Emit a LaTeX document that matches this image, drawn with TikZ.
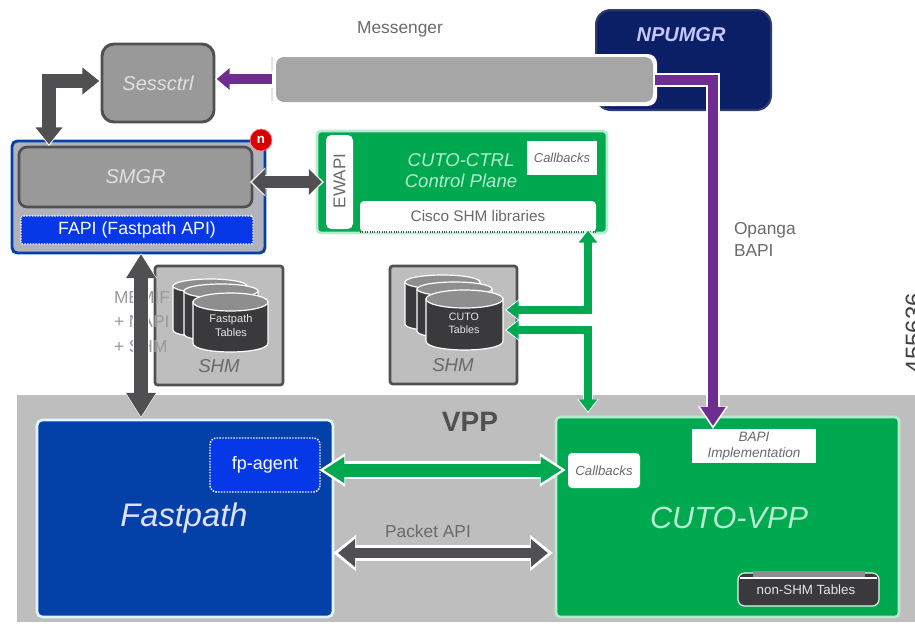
\documentclass[tikz,border=0pt]{standalone}
\usepackage{fontspec}
\setmainfont{Liberation Sans}
\usetikzlibrary{arrows.meta,calc}
\definecolor{cgreen}{HTML}{00A94F}
\definecolor{cmint}{HTML}{B5ECD0}
\definecolor{cdark}{HTML}{505052}
\definecolor{cgray}{HTML}{999999}
\definecolor{cbar}{HTML}{A6A6A6}
\definecolor{cgroup}{HTML}{B2B2BC}
\definecolor{cband}{HTML}{BEBEBE}
\definecolor{cnavy}{HTML}{0B1F66}
\definecolor{cfast}{HTML}{0340A8}
\definecolor{cblue}{HTML}{0638E8}
\definecolor{cpurple}{HTML}{6F2C91}
\definecolor{ctxt}{HTML}{6A6A6A}
\definecolor{ccyl}{HTML}{3A393B}
\definecolor{ccyltop}{HTML}{8E8E8E}
\tikzset{
  boxbase/.style={rectangle,inner sep=0pt,outer sep=0pt,align=center},
  graybox/.style={boxbase,fill=cgray,draw=cdark,line width=2.2pt,rounded corners=9pt,text=white!88!black},
  shmbox/.style={boxbase,fill=cband,draw=cdark,line width=2pt,rounded corners=2pt},
  greenbox/.style={boxbase,fill=cgreen,draw=cmint,line width=2pt,rounded corners=3pt,text=cmint},
  whitebox/.style={boxbase,fill=white,rounded corners=2pt,text=ctxt},
  dotbox/.style={boxbase,fill=cblue,draw=white,line width=1.1pt,densely dotted,rounded corners=3pt,text=white},
  label/.style={inner sep=0pt,outer sep=0pt,text=ctxt,align=left},
  oneway/.style={->,shorten <=0pt},
  bothways/.style={<->},
}
% style, name, x1, y1, x2, y2, text
\newcommand\pxbox[7]{%
  \pgfmathsetmacro\bw{(#5-#3)*.75}\pgfmathsetmacro\bh{(#6-#4)*.75}%
  \pgfmathsetmacro\bcx{(#3+#5)/2}\pgfmathsetmacro\bcy{(#4+#6)/2}%
  \node[#1,minimum width=\bw pt,minimum height=\bh pt] (#2) at (\bcx,\bcy) {#7};}
% colour, tips, shaft, head width, head length, outline, path
\newcommand\barrow[7]{%
  \pgfmathsetmacro\wa{(#3+2*#6)*.75}\pgfmathsetmacro\wb{#3*.75}%
  \pgfmathsetmacro\hwa{(#4+2.6*#6)*.75}\pgfmathsetmacro\hwb{#4*.75}%
  \pgfmathsetmacro\hla{(#5+2*#6)*.75}\pgfmathsetmacro\hlb{#5*.75}%
  \pgfmathsetmacro\shr{1.7*#6*.75}%
  \draw[white,line width=\wa pt,>={Triangle[length=\hla pt,width=\hwa pt]},#2] #7;
  \draw[#1,line width=\wb pt,>={Triangle[length=\hlb pt,width=\hwb pt]},shorten >=\shr pt,shorten <=\shr pt,#2] #7;}
% name, x1, top, x2, bottom, ry
\newcommand\cyl[6]{%
  \pgfmathsetmacro\ccx{(#2+#4)/2}\pgfmathsetmacro\crx{(#4-#2)/2}\pgfmathsetmacro\cb{#5+#6*1.0}%
  \pgfmathsetmacro\ccy{#3+#6}\pgfmathsetmacro\cmy{(#3+#5)/2+#6/2}%
  \draw[white,line width=.9pt,fill=ccyl] (#2,\ccy) -- (#2,#5-#6) .. controls (#2,#5+.33*#6) and (#4,#5+.33*#6) .. (#4,#5-#6) -- (#4,\ccy) -- cycle;
  \draw[white,line width=.9pt,fill=ccyltop] (\ccx,\ccy) ellipse [x radius=\crx,y radius=#6];
  \coordinate (#1) at (\ccx,\cmy);}
\begin{document}
\begin{tikzpicture}[x=.75pt,y=-.75pt]
\useasboundingbox (0,0) rectangle (915,640);
\clip (0,0) rectangle (915,640);
% VPP band
\fill[cband] (17,395) rectangle (915,622);
% NPUMGR and Messenger
\pxbox{boxbase,fill=cnavy,draw=cnavy!70!gray,line width=1.5pt,rounded corners=11pt}{npu}{596}{10}{771}{110}{}
\node[boxbase,text=white!78!blue,font=\fontsize{15}{18}\selectfont\bfseries\itshape] (npulabel) at (681,35) {NPUMGR};
\pxbox{boxbase,fill=white,rounded corners=7pt}{busout}{272}{54}{657}{106}{}
\pxbox{boxbase,fill=cbar,rounded corners=6pt}{bus}{276}{57}{653}{102}{}
\fill[white!78!gray] (271,57) rectangle (273,71) (271,88) rectangle (273,101);
\node[label,font=\fontsize{13}{16}\selectfont] (mess) at (400,29) {Messenger};
% Sessctrl
\pxbox{graybox,font=\fontsize{15}{18}\selectfont\itshape}{sess}{102}{44}{214}{122}{Sessctrl}
% SMGR group
\pxbox{boxbase,fill=cgroup,draw=cfast,line width=2.2pt,rounded corners=4pt}{smgrgrp}{12}{141}{265}{253}{}
\pxbox{graybox,line width=2pt,rounded corners=6pt,font=\fontsize{15}{18}\selectfont\itshape}{smgr}{19}{147}{252}{207}{SMGR}
\pxbox{dotbox,rounded corners=1pt,font=\fontsize{13.3}{16}\selectfont}{fapi}{21}{216}{253}{244}{FAPI (Fastpath API)}
\node[circle,fill=red!85!black,draw=red!45!white,line width=.5pt,minimum size=16.5pt,inner sep=0pt,text=white,font=\fontsize{10}{12}\selectfont\bfseries] (badge) at (261,140) {n};
% CUTO-CTRL
\pxbox{greenbox}{ctrl}{317}{131}{607}{233}{}
\node[boxbase,text=cmint,font=\fontsize{13.9}{15.75}\selectfont\itshape] (ctrltxt) at (461,170.5) {CUTO-CTRL\\Control Plane};
\pxbox{whitebox,rounded corners=4pt}{ewapi}{326}{135}{353}{229}{}
\node[boxbase,rotate=90,text=ctxt,font=\fontsize{12.8}{15}\selectfont] (ewapitxt) at (339.5,181) {EWAPI};
\pxbox{whitebox,rounded corners=0pt,font=\fontsize{9.7}{12}\selectfont\itshape}{cbtop}{527}{141}{597}{175}{Callbacks}
\pxbox{whitebox,rounded corners=3pt,font=\fontsize{11.5}{14}\selectfont}{cisco}{360}{201}{596}{232}{Cisco SHM libraries}
\draw[cdark,line width=.8pt,densely dotted] (cisco.south west) -- (cisco.south east);
% SHM boxes
\pxbox{shmbox}{shma}{155}{266}{283}{385}{}
\cyl{cyla1}{173}{279}{247}{337}{7}
\cyl{cyla2}{184}{284}{258}{341}{7}
\cyl{cyla3}{193}{293}{268}{352}{9}
\node[boxbase,text=white!80!gray,font=\fontsize{8.3}{10.5}\selectfont] (fpt) at (231,326) {Fastpath\\Tables};
\node[boxbase,text=ctxt,font=\fontsize{14}{17}\selectfont\itshape] (shmatxt) at (219,366) {SHM};
\pxbox{shmbox}{shmb}{390}{266}{517}{384}{}
\cyl{cylb1}{405}{275}{480}{331}{7}
\cyl{cylb2}{417}{282}{492}{338}{7}
\cyl{cylb3}{426}{290}{503}{350}{9}
\node[boxbase,text=white!80!gray,font=\fontsize{8}{9.5}\selectfont] (cutot) at (464,323) {CUTO\\Tables};
\node[boxbase,text=ctxt,font=\fontsize{14}{17}\selectfont\itshape] (shmbtxt) at (453,365) {SHM};
% MEMIF label
\node[label,anchor=west,text=cgray,font=\fontsize{13}{16}\selectfont] (mem1) at (114,298) {MEMIF};
\node[label,anchor=west,text=cgray,font=\fontsize{13}{16}\selectfont] (mem2) at (114,322) {+ NAPI};
\node[label,anchor=west,text=cgray,font=\fontsize{13}{16}\selectfont] (mem3) at (114,347) {+ SHM};
% VPP contents
\node[boxbase,text=cdark,font=\fontsize{21}{25}\selectfont\bfseries] (vpp) at (470,422) {VPP};
\pxbox{boxbase,fill=cfast,draw=white!88!cyan,line width=2pt,rounded corners=4pt}{fast}{37}{420}{333}{617}{}
\node[boxbase,text=white!88!blue,font=\fontsize{24.5}{29}\selectfont\itshape] (fasttxt) at (184,518) {Fastpath};
\pxbox{dotbox,rounded corners=5pt,font=\fontsize{13.5}{16}\selectfont}{agent}{210}{438}{320}{492}{fp-agent}
\pxbox{greenbox}{vppbox}{556}{417}{899}{617}{}
\node[boxbase,text=cmint,font=\fontsize{23}{28}\selectfont\itshape] (vpptxt) at (729,518) {CUTO-VPP};
\pxbox{whitebox,rounded corners=3pt,font=\fontsize{9.9}{12}\selectfont\itshape}{cbvpp}{568}{453}{640}{488}{Callbacks}
\pxbox{whitebox,rounded corners=0pt,font=\fontsize{10.2}{12}\selectfont\itshape}{bapi}{692}{429}{816}{463}{BAPI\\Implementation}
% non-SHM table
\pxbox{boxbase,fill=ccyl,draw=white!90!cgreen,line width=.9pt,rounded corners=5pt}{nonshm}{738}{573}{879}{606}{}
\fill[ccyltop] (753,571) rectangle (865,578);
\draw[white,line width=.8pt] (740,578) -- (877,578);
\node[boxbase,text=white!80!gray,font=\fontsize{10}{12}\selectfont] (nonshmtxt) at (806,590) {non-SHM Tables};
% Labels
\node[label,anchor=west,align=left,font=\fontsize{13}{16.5}\selectfont] (opanga) at (734,239) {Opanga\\BAPI};
\node[label,font=\fontsize{13}{16}\selectfont] (packetlab) at (428,531) {Packet API};
\node[boxbase,rotate=90,text=black!75,font=\fontsize{18}{22}\selectfont] (idnum) at (914,333) {455636};
% Named free points
\coordinate (smgrin) at (49,146);
\coordinate (sessin) at (101,81);
\coordinate (busleft) at (272,79);
\coordinate (sessright) at (215,79);
\coordinate (busright) at (655,80);
\coordinate (bapiin) at (713,429);
\coordinate (elbowp) at (713,80);
\coordinate (smgrright) at (250,182);
\coordinate (ewapileft) at (324,182);
\coordinate (memtop) at (141,253);
\coordinate (membot) at (141,418);
\coordinate (cisin) at (588,229);
\coordinate (vppin) at (588,413);
\coordinate (tabu) at (505,310);
\coordinate (tabl) at (505,330);
\coordinate (agentright) at (319,470);
\coordinate (cbleft) at (566,470);
\coordinate (fastright) at (333,553);
\coordinate (vppleft) at (553,553);
% Connectors
\barrow{cdark}{bothways}{14}{26}{17}{1}{(sessin) -| (smgrin)}
\barrow{cpurple}{oneway}{10}{21}{13}{1}{(busleft) -- (sessright)}
\barrow{cdark}{bothways}{12}{25}{13}{1.2}{(smgrright) -- (ewapileft)}
\barrow{cdark}{bothways}{14}{28}{24}{.6}{(memtop) -- (membot)}
\barrow{cpurple}{oneway}{10}{24}{19}{1.8}{(busright) -- (elbowp) -- (bapiin)}
\barrow{cgreen}{bothways}{8}{18}{12}{1}{(tabu) -| (cisin)}
\barrow{cgreen}{bothways}{8}{18}{12}{1}{(tabl) -| (vppin)}
\barrow{cgreen}{bothways}{13}{25}{21}{2.6}{(agentright) -- (cbleft)}
\barrow{cdark}{bothways}{10}{27}{17}{3}{(fastright) -- (vppleft)}
\end{tikzpicture}
\end{document}
